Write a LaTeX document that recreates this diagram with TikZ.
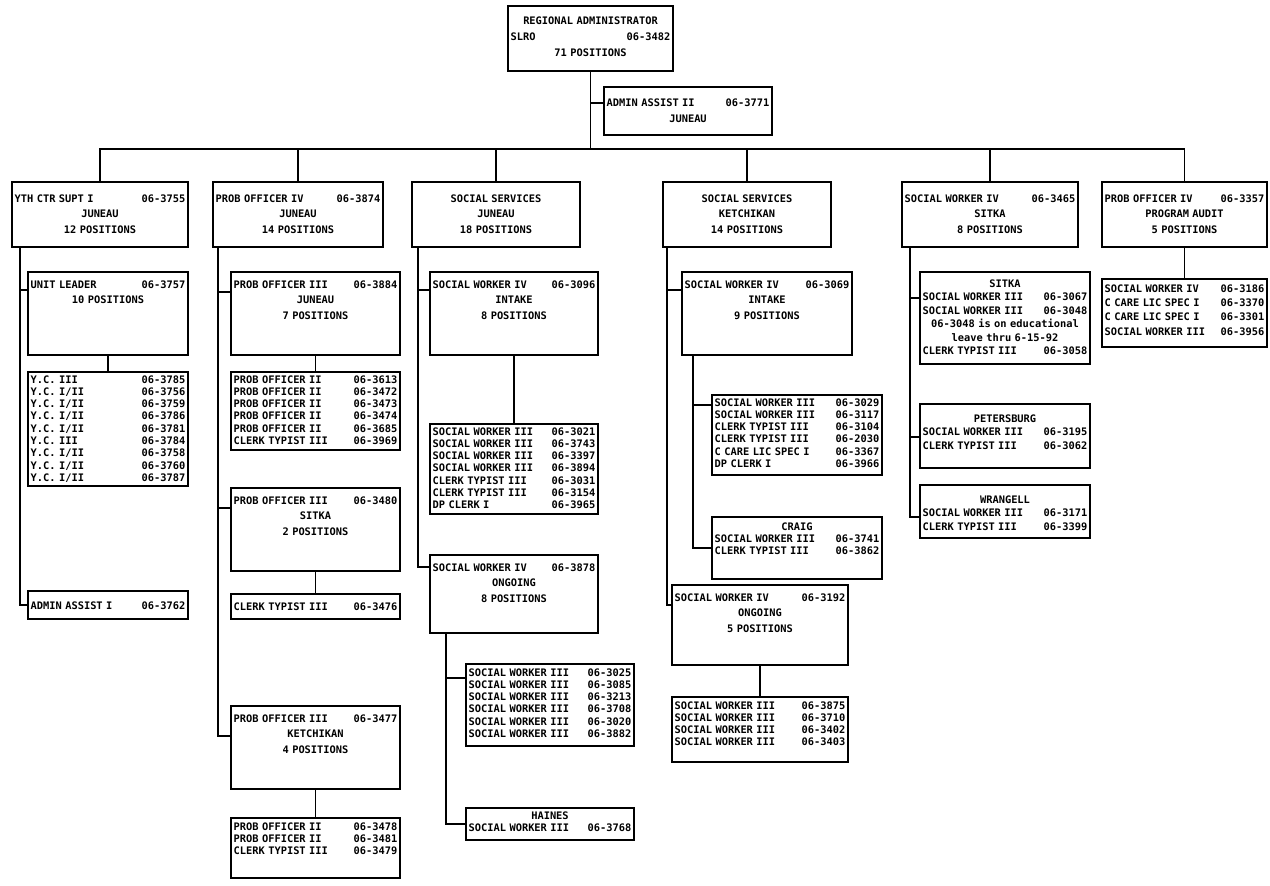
\documentclass[tikz,border=0pt]{standalone}
\usepackage{fontspec}
\newfontfamily\orgfont{DejaVu Sans Mono}
\newcommand\orgtype[1]{\orgfont\bfseries\fontsize{5.9pt}{#1}\selectfont}
\newcommand\gap{\hskip 0pt plus 1filll\relax}

\begin{document}
\begin{tikzpicture}[
      x=0.02cm, y=-0.02cm,
      orgbox/.style={draw, line width=1pt, anchor=north west, align=center, inner xsep=1.5pt, inner ysep=0pt, outer sep=0pt},
      headbox/.style={orgbox, font={\orgtype{9pt}}},
      listbox/.style={orgbox, font={\orgtype{7pt}}},
      widelist/.style={orgbox, font={\orgtype{#1}}},
      dims/.code n args={3}{%
        \pgfmathsetlengthmacro\boxw{#1*0.02cm-3pt}%
        \pgfmathsetlengthmacro\boxt{#3*0.02cm}%
        \pgfmathsetlengthmacro\boxd{(#2-#3)*0.02cm}%
        \tikzset{text width/.expanded=\boxw, text height/.expanded=\boxt, text depth/.expanded=\boxd}},
      link/.style={line width=0.9pt},
    ]
    \useasboundingbox (0,0) rectangle (1270,885);

    \node[headbox, dims={165}{65}{19}] (top) at (508,6)
      {REGIONAL ADMINISTRATOR\\SLRO\gap 06-3482\\71 POSITIONS};
    \node[headbox, dims={168}{48}{20}] (admin) at (604,87)
      {ADMIN ASSIST II\gap 06-3771\\JUNEAU};
    \coordinate (bus) at (0,149);

    \node[headbox, dims={176}{65}{20}] (c1head) at (12,182)
      {YTH CTR SUPT I\gap 06-3755\\JUNEAU\\12 POSITIONS};
    \node[headbox, dims={170}{65}{20}] (c2head) at (213,182)
      {PROB OFFICER IV\gap 06-3874\\JUNEAU\\14 POSITIONS};
    \node[headbox, dims={168}{65}{20}] (c3head) at (412,182)
      {SOCIAL SERVICES\\JUNEAU\\18 POSITIONS};
    \node[headbox, dims={168}{65}{20}] (c4head) at (663,182)
      {SOCIAL SERVICES\\KETCHIKAN\\14 POSITIONS};
    \node[headbox, dims={176}{65}{20}] (c5head) at (902,182)
      {SOCIAL WORKER IV\gap 06-3465\\SITKA\\8 POSITIONS};
    \node[headbox, dims={165}{65}{20}] (c6head) at (1102,182)
      {PROB OFFICER IV\gap 06-3357\\PROGRAM AUDIT\\5 POSITIONS};

    \node[headbox, dims={160}{83}{16}] (c1unit) at (28,272)
      {UNIT LEADER\gap 06-3757\\10 POSITIONS};
    \node[listbox, dims={160}{114}{11}] (c1yc) at (28,372)
      {Y.C. III\gap 06-3785\\Y.C. I/II\gap 06-3756\\Y.C. I/II\gap 06-3759\\
       Y.C. I/II\gap 06-3786\\Y.C. I/II\gap 06-3781\\Y.C. III\gap 06-3784\\
       Y.C. I/II\gap 06-3758\\Y.C. I/II\gap 06-3760\\Y.C. I/II\gap 06-3787};
    \node[listbox, dims={160}{28}{18}] (c1admin) at (28,591)
      {ADMIN ASSIST I\gap 06-3762};

    \node[headbox, dims={169}{83}{16}] (c2p3j) at (231,272)
      {PROB OFFICER III\gap 06-3884\\JUNEAU\\7 POSITIONS};
    \node[listbox, dims={169}{78}{11}] (c2list) at (231,372)
      {PROB OFFICER II\gap 06-3613\\PROB OFFICER II\gap 06-3472\\PROB OFFICER II\gap 06-3473\\
       PROB OFFICER II\gap 06-3474\\PROB OFFICER II\gap 06-3685\\CLERK TYPIST III\gap 06-3969};
    \node[headbox, dims={169}{83}{16}] (c2p3s) at (231,488)
      {PROB OFFICER III\gap 06-3480\\SITKA\\2 POSITIONS};
    \node[listbox, dims={169}{25}{16}] (c2clerk) at (231,594)
      {CLERK TYPIST III\gap 06-3476};
    \node[headbox, dims={169}{83}{16}] (c2p3k) at (231,706)
      {PROB OFFICER III\gap 06-3477\\KETCHIKAN\\4 POSITIONS};
    \node[listbox, dims={169}{60}{12}] (c2list2) at (231,818)
      {PROB OFFICER II\gap 06-3478\\PROB OFFICER II\gap 06-3481\\CLERK TYPIST III\gap 06-3479};

    \node[headbox, dims={168}{83}{16}] (c3intake) at (430,272)
      {SOCIAL WORKER IV\gap 06-3096\\INTAKE\\8 POSITIONS};
    \node[listbox, dims={168}{90}{11}] (c3list) at (430,424)
      {SOCIAL WORKER III\gap 06-3021\\SOCIAL WORKER III\gap 06-3743\\SOCIAL WORKER III\gap 06-3397\\
       SOCIAL WORKER III\gap 06-3894\\CLERK TYPIST III\gap 06-3031\\CLERK TYPIST III\gap 06-3154\\
       DP CLERK I\gap 06-3965};
    \node[headbox, dims={168}{78}{16}] (c3ongo) at (430,555)
      {SOCIAL WORKER IV\gap 06-3878\\ONGOING\\8 POSITIONS};
    \node[listbox, dims={168}{82}{12}] (c3list2) at (466,664)
      {SOCIAL WORKER III\gap 06-3025\\SOCIAL WORKER III\gap 06-3085\\SOCIAL WORKER III\gap 06-3213\\
       SOCIAL WORKER III\gap 06-3708\\SOCIAL WORKER III\gap 06-3020\\SOCIAL WORKER III\gap 06-3882};
    \node[listbox, dims={168}{32}{11}] (c3haines) at (466,808)
      {HAINES\\SOCIAL WORKER III\gap 06-3768};

    \node[headbox, dims={170}{83}{16}] (c4intake) at (682,272)
      {SOCIAL WORKER IV\gap 06-3069\\INTAKE\\9 POSITIONS};
    \node[listbox, dims={170}{80}{11}] (c4list) at (712,395)
      {SOCIAL WORKER III\gap 06-3029\\SOCIAL WORKER III\gap 06-3117\\CLERK TYPIST III\gap 06-3104\\
       CLERK TYPIST III\gap 06-2030\\C CARE LIC SPEC I\gap 06-3367\\DP CLERK I\gap 06-3966};
    \node[listbox, dims={170}{62}{13}] (c4craig) at (712,517)
      {CRAIG\\SOCIAL WORKER III\gap 06-3741\\CLERK TYPIST III\gap 06-3862};
    \node[headbox, dims={176}{80}{16}] (c4ongo) at (672,585)
      {SOCIAL WORKER IV\gap 06-3192\\ONGOING\\5 POSITIONS};
    \node[listbox, dims={176}{65}{12}] (c4list2) at (672,697)
      {SOCIAL WORKER III\gap 06-3875\\SOCIAL WORKER III\gap 06-3710\\
       SOCIAL WORKER III\gap 06-3402\\SOCIAL WORKER III\gap 06-3403};

    \node[widelist=7.7pt, dims={170}{92}{15}] (c5sitka) at (920,272)
      {SITKA\\SOCIAL WORKER III\gap 06-3067\\SOCIAL WORKER III\gap 06-3048\\
       06-3048 is on educational\\leave thru 6-15-92\\CLERK TYPIST III\gap 06-3058};
    \node[widelist=7.7pt, dims={170}{64}{18}] (c5peters) at (920,404)
      {PETERSBURG\\SOCIAL WORKER III\gap 06-3195\\CLERK TYPIST III\gap 06-3062};
    \node[widelist=7.7pt, dims={170}{53}{18}] (c5wrang) at (920,485)
      {WRANGELL\\SOCIAL WORKER III\gap 06-3171\\CLERK TYPIST III\gap 06-3399};

    \node[widelist=8.2pt, dims={165}{68}{13}] (c6list) at (1102,279)
      {SOCIAL WORKER IV\gap 06-3186\\C CARE LIC SPEC I\gap 06-3370\\
       C CARE LIC SPEC I\gap 06-3301\\SOCIAL WORKER III\gap 06-3956};

    \draw[link] (top.south) |- ([yshift=-0.32cm]admin.north west);
    \draw[link] (top.south) |- (bus -| c1head.north) -- (c1head.north);
    \draw[link] (top.south) |- (bus -| c2head.north) -- (c2head.north);
    \draw[link] (top.south) |- (bus -| c3head.north) -- (c3head.north);
    \draw[link] (top.south) |- (bus -| c4head.north) -- (c4head.north);
    \draw[link] (top.south) |- (bus -| c5head.north) -- (c5head.north);
    \draw[link] (top.south) |- (bus -| c6head.north) -- (c6head.north);

    \draw[link] ([xshift=0.16cm]c1head.south west) |- ([yshift=-0.36cm]c1unit.north west);
    \draw[link] ([xshift=0.16cm]c1head.south west) |- (c1admin.west);
    \draw[link] (c1unit.south) -- (c1yc.north);

    \draw[link] ([xshift=0.1cm]c2head.south west) |- ([yshift=-0.4cm]c2p3j.north west);
    \draw[link] ([xshift=0.1cm]c2head.south west) |- ([yshift=-0.4cm]c2p3s.north west);
    \draw[link] ([xshift=0.1cm]c2head.south west) |- ([yshift=-0.6cm]c2p3k.north west);
    \draw[link] (c2p3j.south) -- (c2list.north);
    \draw[link] (c2p3s.south) -- (c2clerk.north);
    \draw[link] (c2p3k.south) -- (c2list2.north);

    \draw[link] ([xshift=0.12cm]c3head.south west) |- ([yshift=-0.36cm]c3intake.north west);
    \draw[link] ([xshift=0.12cm]c3head.south west) |- ([yshift=-0.24cm]c3ongo.north west);
    \draw[link] (c3intake.south) -- (c3list.north);
    \draw[link] ([xshift=0.32cm]c3ongo.south west) |- ([yshift=-0.28cm]c3list2.north west);
    \draw[link] ([xshift=0.32cm]c3ongo.south west) |- (c3haines.west);

    \draw[link] ([xshift=0.08cm]c4head.south west) |- ([yshift=-0.36cm]c4intake.north west);
    \draw[link] ([xshift=0.08cm]c4head.south west) |- ([yshift=-0.4cm]c4ongo.north west);
    \draw[link] ([xshift=0.22cm]c4intake.south west) |- ([yshift=-0.2cm]c4list.north west);
    \draw[link] ([xshift=0.22cm]c4intake.south west) |- ([yshift=-0.62cm]c4craig.north west);
    \draw[link] (c4ongo.south) -- (c4list2.north);

    \draw[link] ([xshift=0.16cm]c5head.south west) |- ([yshift=-0.52cm]c5sitka.north west);
    \draw[link] ([xshift=0.16cm]c5head.south west) |- ([yshift=-0.66cm]c5peters.north west);
    \draw[link] ([xshift=0.16cm]c5head.south west) |- ([yshift=-0.64cm]c5wrang.north west);

    \draw[link] (c6head.south) -- (c6list.north);
  \end{tikzpicture}
\end{document}
